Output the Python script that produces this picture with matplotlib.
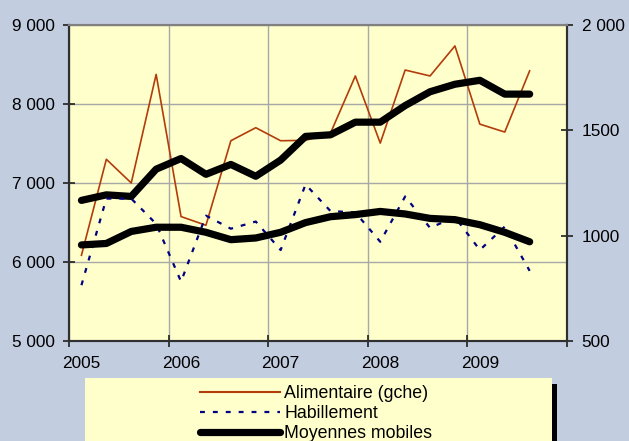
import matplotlib
matplotlib.use("Agg")
import matplotlib.pyplot as plt
from matplotlib.lines import Line2D
from matplotlib.patches import Rectangle

plt.rcParams['font.family'] = ['Liberation Sans', 'DejaVu Sans']

# quarterly positions (mid-quarter)
dates = [2005.125, 2005.375, 2005.625, 2005.875,
         2006.125, 2006.375, 2006.625, 2006.875,
         2007.125, 2007.375, 2007.625, 2007.875,
         2008.125, 2008.375, 2008.625, 2008.875,
         2009.125, 2009.375, 2009.625]

alimentaire = [6085, 7300, 7000, 8375, 6575, 6465, 7535, 7700, 7535, 7540,
               7630, 8355, 7505, 8430, 8355, 8735, 7745, 7645, 8420]
alim_mm = [6780, 6850, 6830, 7175, 7310, 7110, 7235, 7085, 7290, 7590,
           7610, 7770, 7770, 7980, 8155, 8250, 8300, 8125, 8125]

habillement = [765, 1176, 1176, 1056, 782, 1095, 1033, 1067, 932, 1243,
               1117, 1110, 971, 1186, 1037, 1088, 932, 1043, 833]
hab_mm = [956, 963, 1020, 1040, 1040, 1016, 981, 989, 1016, 1062,
          1090, 1100, 1115, 1103, 1082, 1076, 1052, 1016, 971]

left_ticks = [5000, 6000, 7000, 8000, 9000]
left_labels = ['5 000', '6 000', '7 000', '8 000', '9 000']
right_ticks = [500, 1000, 1500, 2000]
right_labels = ['500', '1000', '1500', '2 000']
years = [2005, 2006, 2007, 2008, 2009, 2010]
year_labels = ['2005', '2006', '2007', '2008', '2009']

BG = '#C3CDE0'
PLOT_BG = '#FFFFCC'
BROWN = '#B23C0A'
NAVY = '#000080'
FS = 12.4

fig = plt.figure(figsize=(6.29, 4.41), dpi=100, facecolor=BG)
ax = fig.add_axes([69/629, 1-341/441, (567-69)/629, (341-25)/441])
ax.set_facecolor(PLOT_BG)
ax2 = ax.twinx()

ax.plot(dates, alimentaire, color=BROWN, lw=1.2, zorder=3)
ax.plot(dates, alim_mm, color='black', lw=5.2, solid_capstyle='round',
        solid_joinstyle='round', zorder=4)
ax2.plot(dates, habillement, color=NAVY, lw=1.6, dashes=(2.2, 3.6), zorder=3)
ax2.plot(dates, hab_mm, color='black', lw=5.2, solid_capstyle='round',
         solid_joinstyle='round', zorder=4)

ax.set_xlim(2005, 2010)
ax.set_ylim(5000, 9000)
ax2.set_ylim(500, 2000)

ax.set_yticks(left_ticks)
ax.set_yticklabels(left_labels, fontsize=FS)
ax2.set_yticks(right_ticks)
ax2.set_yticklabels(right_labels, fontsize=FS)

ax.set_xticks(years)
ax.set_xticklabels([''] * len(years))
ax.set_xticks([y + 0.125 for y in years[:-1]], minor=True)
ax.set_xticklabels(year_labels, minor=True, fontsize=FS)
ax.tick_params(axis='x', which='minor', length=0, pad=11)
ax.tick_params(axis='x', which='major', direction='inout', length=9,
               width=1.2, color='#202020')
ax.tick_params(axis='y', direction='inout', length=9, width=1.2,
               color='#202020', pad=6)
ax2.tick_params(axis='y', direction='inout', length=9, width=1.2,
                color='#202020', pad=6)

ax.grid(True, which='major', color='#A8A8A8', lw=1.0)
ax.set_axisbelow(True)

for a in (ax, ax2):
    a.spines['left'].set_color('#303030')
    a.spines['bottom'].set_color('#303030')
    a.spines['right'].set_color('#303030')
    a.spines['top'].set_color('#808080')
    for s in a.spines.values():
        s.set_linewidth(1.5)

# legend box with shadow, cut by figure bottom
fig.patches.append(Rectangle((552/629, 0), 5/629, 1-384/441,
                             transform=fig.transFigure, facecolor='black',
                             edgecolor='none', zorder=0))
fig.patches.append(Rectangle((85/629, 0), (552-85)/629, 1-378/441,
                             transform=fig.transFigure, facecolor=PLOT_BG,
                             edgecolor='none', zorder=1))

handles = [Line2D([], [], color=BROWN, lw=1.5),
           Line2D([], [], color=NAVY, lw=1.6, dashes=(2.2, 3.6)),
           Line2D([], [], color='black', lw=5.2, solid_capstyle='round')]
labels = ['Alimentaire (gche)', 'Habillement', 'Moyennes mobiles']
leg = fig.legend(handles, labels, loc='upper left',
                 bbox_to_anchor=(200/629, 1-385/441), frameon=False,
                 fontsize=12.8, handlelength=4.5, handletextpad=0.25,
                 labelspacing=0.18, borderpad=0, borderaxespad=0)

fig.savefig('out.png', dpi=100, facecolor=BG)
